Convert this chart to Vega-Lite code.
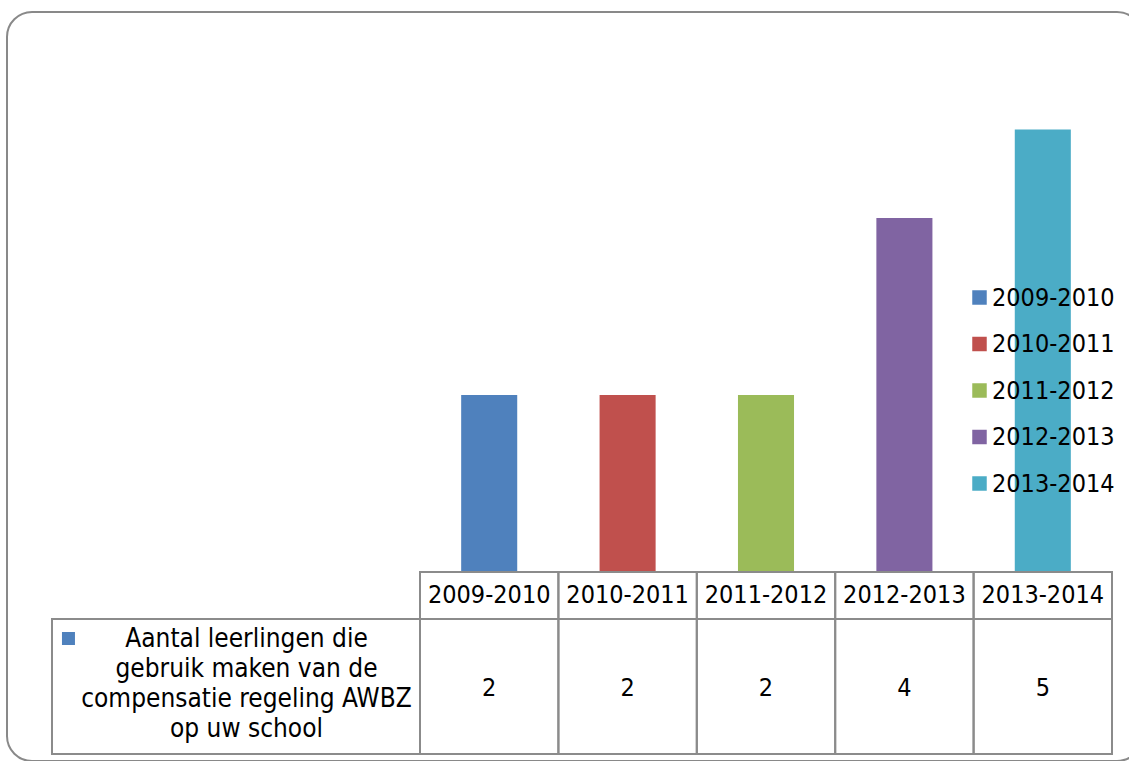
{
  "$schema": "https://vega.github.io/schema/vega-lite/v6.json",
  "width": 1135,
  "height": 749,
  "autosize": {"type": "none"},
  "padding": {"left": 7, "top": 12, "right": 0, "bottom": 0},
  "background": "white",
  "config": {
    "view": {"stroke": "#898989", "strokeWidth": 2, "cornerRadius": 25},
    "text": {"font": "DejaVu Sans Condensed, Noto Sans", "color": "black"},
    "legend": {"labelFont": "DejaVu Sans Condensed, Noto Sans"}
  },
  "data": {
    "values": [
      {"schooljaar": "2009-2010", "aantal": 2},
      {"schooljaar": "2010-2011", "aantal": 2},
      {"schooljaar": "2011-2012", "aantal": 2},
      {"schooljaar": "2012-2013", "aantal": 4},
      {"schooljaar": "2013-2014", "aantal": 5}
    ]
  },
  "encoding": {
    "x": {
      "field": "schooljaar",
      "type": "nominal",
      "sort": null,
      "scale": {"range": [413, 1105], "paddingInner": 0, "paddingOuter": 0},
      "axis": null
    }
  },
  "layer": [
    {
      "mark": {"type": "bar", "width": {"band": 0.405}},
      "encoding": {
        "y": {
          "field": "aantal",
          "type": "quantitative",
          "scale": {"domain": [-2.1356, 6.3277], "nice": false, "zero": false},
          "axis": null
        },
        "y2": {"datum": 0},
        "color": {
          "field": "schooljaar",
          "type": "nominal",
          "sort": null,
          "scale": {
            "domain": ["2009-2010", "2010-2011", "2011-2012", "2012-2013", "2013-2014"],
            "range": ["#4f81bd", "#c0504d", "#9bbb59", "#8064a2", "#4bacc6"]
          },
          "legend": {
            "title": null,
            "orient": "none",
            "legendX": 960,
            "legendY": 273,
            "symbolType": "square",
            "symbolSize": 210,
            "symbolStrokeWidth": 0,
            "labelFontSize": 25,
            "labelColor": "black",
            "labelOffset": 0,
            "rowPadding": 20.5
          }
        }
      }
    },
    {
      "mark": {"type": "rect", "filled": false, "stroke": "#8b8b8b", "strokeWidth": 2},
      "encoding": {
        "y": {"datum": 0, "type": "quantitative"},
        "y2": {"datum": -0.531}
      }
    },
    {
      "mark": {"type": "rect", "filled": false, "stroke": "#8b8b8b", "strokeWidth": 2},
      "encoding": {
        "y": {"datum": -0.531, "type": "quantitative"},
        "y2": {"datum": -2.0565}
      }
    },
    {
      "mark": {"type": "text", "fontSize": 25, "baseline": "middle", "align": "center"},
      "encoding": {
        "y": {"datum": -0.26, "type": "quantitative"},
        "text": {"field": "schooljaar", "type": "nominal"}
      }
    },
    {
      "mark": {"type": "text", "fontSize": 25, "baseline": "middle", "align": "center"},
      "encoding": {
        "y": {"datum": -1.311, "type": "quantitative"},
        "text": {"field": "aantal", "type": "quantitative"}
      }
    },
    {
      "data": {"values": [{"reeks": "Aantal leerlingen die gebruik maken van de compensatie regeling AWBZ op uw school"}]},
      "mark": {"type": "rect", "filled": false, "stroke": "#8b8b8b", "strokeWidth": 2},
      "encoding": {
        "x": {"datum": "2009-2010", "bandPosition": -2.659},
        "x2": {"datum": "2009-2010", "bandPosition": 0},
        "y": {"datum": -0.531, "type": "quantitative"},
        "y2": {"datum": -2.0565}
      }
    },
    {
      "data": {"values": [{"reeks": "Aantal leerlingen die\ngebruik maken van de\ncompensatie regeling AWBZ\nop uw school"}]},
      "mark": {"type": "text", "fontSize": 26, "baseline": "middle", "align": "center", "lineBreak": "\n", "lineHeight": 30},
      "encoding": {
        "x": {"datum": "2009-2010", "bandPosition": -1.2536},
        "y": {"datum": -0.757, "type": "quantitative"},
        "text": {"field": "reeks", "type": "nominal"}
      }
    },
    {
      "data": {"values": [{"reeks": "Aantal leerlingen die gebruik maken van de compensatie regeling AWBZ op uw school"}]},
      "mark": {"type": "point", "shape": "square", "size": 169, "filled": true, "color": "#4f81bd", "opacity": 1, "strokeWidth": 0},
      "encoding": {
        "x": {"datum": "2009-2010", "bandPosition": -2.54},
        "y": {"datum": -0.7514, "type": "quantitative"}
      }
    }
  ]
}
